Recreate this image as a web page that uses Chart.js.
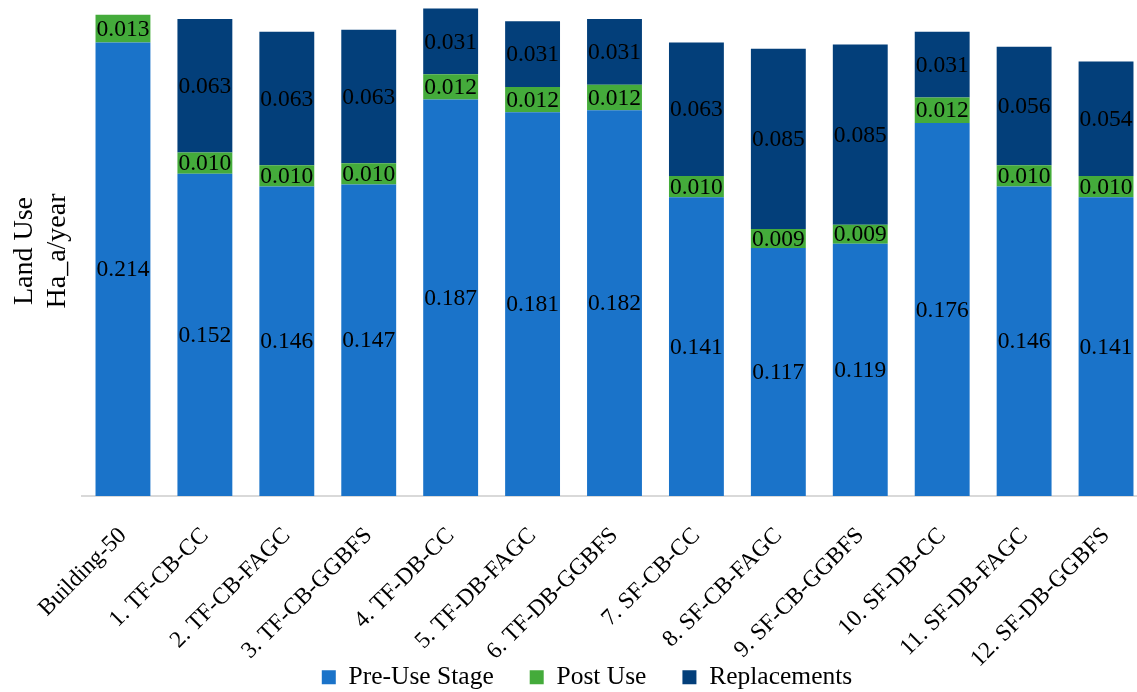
<!DOCTYPE html>
<html>
<head>
<meta charset="utf-8">
<script src="https://cdn.jsdelivr.net/npm/chart.js@4"></script>
<style>
  html, body { margin: 0; padding: 0; background: #fff; overflow: hidden; }
  #wrap { width: 1147px; height: 692px; }
</style>
</head>
<body>
<div id="wrap"><canvas id="chart" width="1147" height="692"></canvas></div>
<script>
// categories and values
const categories = [
    'Building-50', '1. TF-CB-CC', '2. TF-CB-FAGC', '3. TF-CB-GGBFS',
    '4. TF-DB-CC', '5. TF-DB-FAGC', '6. TF-DB-GGBFS', '7. SF-CB-CC',
    '8. SF-CB-FAGC', '9. SF-CB-GGBFS', '10. SF-DB-CC', '11. SF-DB-FAGC',
    '12. SF-DB-GGBFS'
];
const preUse = [0.214, 0.152, 0.146, 0.147, 0.187, 0.181, 0.182, 0.141, 0.117, 0.119, 0.176, 0.146, 0.141];
const postUse = [0.013, 0.010, 0.010, 0.010, 0.012, 0.012, 0.012, 0.010, 0.009, 0.009, 0.012, 0.010, 0.010];
const replacements = [null, 0.063, 0.063, 0.063, 0.031, 0.031, 0.031, 0.063, 0.085, 0.085, 0.031, 0.056, 0.054];

const yTitle = ['Land Use', 'Ha_a/year'];
const FONT = '"Liberation Serif", "DejaVu Serif", serif';

// 막대 안에 값 표시
const valueLabels = {
    id: 'valueLabels',
    afterDatasetsDraw(chart) {
        const ctx = chart.ctx;
        ctx.save();
        ctx.font = '23.5px ' + FONT;
        ctx.fillStyle = '#000';
        ctx.textAlign = 'center';
        ctx.textBaseline = 'middle';
        chart.data.datasets.forEach((ds, i) => {
            const meta = chart.getDatasetMeta(i);
            meta.data.forEach((bar, j) => {
                const v = ds.data[j];
                if (v == null) return;
                ctx.fillText(v.toFixed(3), bar.x, (bar.y + bar.base) / 2 + 1);
            });
        });
        ctx.restore();
    }
};

// 세로축 제목
const axisTitle = {
    id: 'axisTitle',
    afterDraw(chart) {
        const ctx = chart.ctx;
        ctx.save();
        ctx.font = '28px ' + FONT;
        ctx.fillStyle = '#000';
        ctx.textAlign = 'center';
        ctx.textBaseline = 'middle';
        ctx.translate(0, 251);
        ctx.rotate(-Math.PI / 2);
        ctx.fillText(yTitle[0], 0, 25);
        ctx.fillText(yTitle[1], 0, 58);
        ctx.restore();
    }
};

new Chart(document.getElementById('chart'), {
    type: 'bar',
    data: {
        labels: categories,
        datasets: [
            { label: 'Pre-Use Stage', data: preUse, backgroundColor: '#1A73C9' },
            { label: 'Post Use', data: postUse, backgroundColor: '#44AB3B' },
            { label: 'Replacements', data: replacements, backgroundColor: '#033F7A' }
        ]
    },
    options: {
        responsive: false,
        animation: false,
        layout: { padding: { left: 27, top: 0, right: 0, bottom: -8 } },
        datasets: {
            bar: { categoryPercentage: 1, barPercentage: 0.67 }
        },
        plugins: {
            legend: {
                position: 'bottom',
                labels: {
                    font: { family: FONT, size: 25.5 },
                    color: '#000',
                    boxWidth: 14,
                    boxHeight: 14,
                    padding: 36
                }
            },
            tooltip: { enabled: false }
        },
        scales: {
            x: {
                stacked: true,
                grid: { display: false },
                border: { display: true, color: '#d9d9d9', width: 2 },
                ticks: {
                    font: { family: FONT, size: 23.5 },
                    color: '#000',
                    maxRotation: 45,
                    minRotation: 45,
                    autoSkip: false,
                    padding: 18
                },
                afterFit(scale) {
                    scale.height = 132.5;
                    // 긴 라벨이 축 영역 밖으로 나가도 잘리지 않게
                    scale._computeLabelArea = () => undefined;
                }
            },
            y: {
                stacked: true,
                min: 0,
                max: 0.234,
                grid: { display: false },
                border: { display: false },
                ticks: { display: false },
                afterFit(scale) { scale.width = 55; }
            }
        }
    },
    plugins: [valueLabels, axisTitle]
});
</script>
</body>
</html>
